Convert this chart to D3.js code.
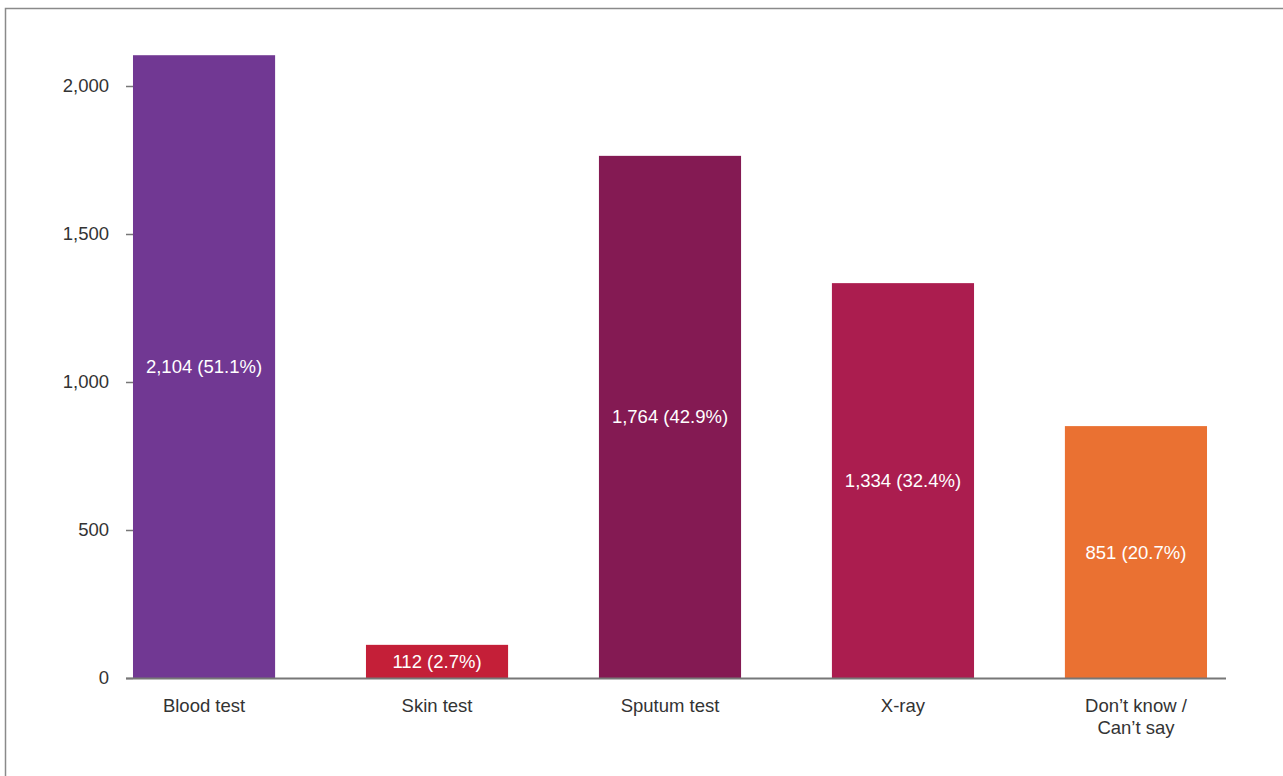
<!DOCTYPE html>
<html>
<head>
<meta charset="utf-8">
<script src="https://cdn.jsdelivr.net/npm/d3@7"></script>
<style>
  html, body { margin: 0; padding: 0; background: #fff; }
  svg { display: block; font-family: "Liberation Sans", Arial, sans-serif; }
</style>
</head>
<body>
<svg id="chart" width="1283" height="776"></svg>
<script>
// Test types and respondent counts
const categories = ["Blood test", "Skin test", "Sputum test", "X-ray", "Don\u2019t know /\nCan\u2019t say"];
const counts = [2104, 112, 1764, 1334, 851];
const percents = [51.1, 2.7, 42.9, 32.4, 20.7];
const barColors = ["#713893", "#c41f38", "#841a53", "#ab1d4f", "#ea7132"];
const yTicks = [0, 500, 1000, 1500, 2000];

const fontSize = "18.5px";
const svg = d3.select("#chart");

// Outer frame
svg.append("rect")
  .attr("x", 5.5).attr("y", 8.5)
  .attr("width", 1300).attr("height", 800)
  .attr("fill", "none")
  .attr("stroke", "#8a8a8a")
  .attr("stroke-width", 1.5);

const y = d3.scaleLinear().domain([0, 2000]).range([678, 86]);
const x = d3.scaleBand()
  .domain(categories)
  .range([126, 1214])
  .paddingInner(0.39)
  .paddingOuter(0.03);

// Y axis: ticks and labels only
const yAxis = d3.axisLeft(y)
  .tickValues(yTicks)
  .tickSize(7)
  .tickPadding(17)
  .tickFormat(d3.format(","));
const gy = svg.append("g").attr("transform", "translate(133,0)").call(yAxis);
gy.select(".domain").remove();
gy.selectAll(".tick line").attr("stroke", "#777").attr("stroke-width", 1.5);
gy.selectAll(".tick text")
  .attr("fill", "#333")
  .style("font-size", fontSize);

// Bars
svg.append("g").selectAll("rect")
  .data(categories)
  .join("rect")
  .attr("x", d => x(d))
  .attr("y", (d, i) => y(counts[i]))
  .attr("width", x.bandwidth())
  .attr("height", (d, i) => y(0) - y(counts[i]))
  .attr("fill", (d, i) => barColors[i]);

// Value labels centred in each bar
const fmt = d3.format(",");
svg.append("g").selectAll("text")
  .data(categories)
  .join("text")
  .attr("x", d => x(d) + x.bandwidth() / 2)
  .attr("y", (d, i) => (y(counts[i]) + y(0)) / 2)
  .attr("dy", "0.35em")
  .attr("text-anchor", "middle")
  .attr("fill", "#fff")
  .style("font-size", fontSize)
  .text((d, i) => `${fmt(counts[i])} (${percents[i].toFixed(1)}%)`);

// X axis baseline
svg.append("line")
  .attr("x1", 126).attr("x2", 1226)
  .attr("y1", y(0) + 0.5).attr("y2", y(0) + 0.5)
  .attr("stroke", "#777")
  .attr("stroke-width", 2);

// Category labels (multi-line where needed)
const xl = svg.append("g").selectAll("text")
  .data(categories)
  .join("text")
  .attr("x", d => x(d) + x.bandwidth() / 2)
  .attr("y", 711.5)
  .attr("text-anchor", "middle")
  .attr("fill", "#333")
  .style("font-size", fontSize);
xl.each(function(d) {
  const t = d3.select(this);
  d.split("\n").forEach((line, k) => {
    t.append("tspan")
      .attr("x", x(d) + x.bandwidth() / 2)
      .attr("dy", k === 0 ? 0 : 22)
      .text(line);
  });
});
</script>
</body>
</html>
